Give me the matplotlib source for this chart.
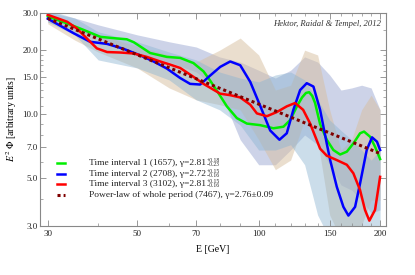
import numpy as np
import matplotlib
matplotlib.use("Agg")
import matplotlib.pyplot as plt
from matplotlib.ticker import FixedLocator, NullFormatter

plt.rcParams['font.family'] = ['Liberation Serif', 'DejaVu Serif']
plt.rcParams['mathtext.fontset'] = 'stix'

# ---- curves (E in GeV, E^2 Phi in arbitrary units)
green_E = [30, 33.5, 36.8, 40.5, 44.5, 47.1, 49.0, 50.9, 53.8, 59.2, 63.9, 68.9, 73.0,
           75.8, 78.8, 83.4, 88.3, 93.5, 100.8, 108.8, 115.2, 119.7, 124.4, 128.1, 131,
           133.4, 135.8, 138, 142, 147.5, 153.2, 159.2, 165.4, 171.7, 178.4, 182.5,
           188.9, 194.3, 200]
green_V = [28.8, 26.7, 24.9, 23.1, 22.7, 22.5, 21.8, 20.8, 19.4, 18.6, 18.4, 17.4, 15.9,
           14.4, 12.9, 10.9, 9.6, 9.05, 8.9, 8.6, 8.75, 9.4, 10.9, 12.0, 12.6,
           12.7, 12.2, 11.3, 9.0, 7.6, 6.8, 6.48, 6.68, 7.3, 8.15, 8.3,
           7.85, 7.05, 6.17]

blue_E = [30, 34.8, 38.2, 42.1, 46.2, 50.9, 54.9, 59.2, 63.9, 67.6, 71.6, 75.8, 80.3,
          85.0, 90.0, 95.3, 100.8, 106.8, 112.6, 117.4, 121.9, 126.7, 131.6, 136.7, 142,
          147.5, 150.4, 156.2, 162.2, 166.9, 173.4, 178.4, 185.3, 191, 196.5, 200]
blue_V = [28.1, 24.0, 21.9, 21.4, 20.3, 18.9, 17.7, 16.4, 14.8, 13.9, 13.8, 15.2, 16.7,
          17.7, 17.0, 14.2, 11.0, 8.4, 7.6, 8.15, 10.5, 13.0, 14.0, 13.5, 10.5,
          7.3, 6.1, 4.57, 3.68, 3.35, 3.68, 4.74, 6.8, 7.8, 7.44, 6.8]

red_E = [30, 33.5, 35.4, 37.5, 39.7, 42.1, 45.4, 49.0, 52.8, 57.0, 60.4, 63.9, 68.9,
         73.0, 80.3, 85.0, 90.0, 95.3, 99.0, 104.8, 110.9, 117.4, 123.1, 128.9, 134.1,
         142, 147.5, 156.2, 165.4, 171.7, 178.4, 183.5, 188.1, 194.3, 200]
red_V = [29.3, 27.2, 25.3, 22.7, 20.4, 19.6, 19.5, 19.3, 18.6, 17.7, 17.1, 16.5, 15.0,
         13.9, 12.5, 12.3, 12.0, 11.1, 10.1, 9.8, 10.25, 10.9, 11.3, 10.5, 9.07,
         6.9, 6.4, 6.1, 5.8, 5.29, 4.41, 3.56, 3.17, 3.56, 5.09]

# power law of the whole period: end points of the straight log-log line
pl_E = [30, 200]
pl_V = [28.2, 6.55]

# ---- uncertainty bands
band_E = [30, 35, 40, 50, 60, 70, 80, 90, 100, 110, 120, 130, 140, 150, 160, 170, 180, 190, 200]
green_up = [30.2, 28.3, 26.3, 23.6, 21.9, 20.7, 18.6, 17.6, 16.1, 14.8, 16.1, 18.6, 17.6,
            15.3, 13.0, 13.3, 13.7, 13.3, 10.5]
green_lo = [27.1, 25.0, 22.8, 19.0, 17.6, 15.8, 13.0, 7.6, 5.8, 5.8, 6.8, 8.0, 7.2,
            5.8, 4.66, 4.41, 3.96, 3.44, 3.56]
blue_up = [29.6, 26.3, 23.6, 20.9, 19.0, 17.6, 20.0, 22.8, 19.0, 13.0, 13.7, 20.0, 19.0,
           10.5, 6.8, 7.6, 10.5, 12.3, 10.5]
blue_lo = [26.6, 22.3, 19.6, 16.5, 13.3, 11.7, 11.1, 10.5, 7.6, 5.5, 6.1, 9.4, 7.6,
           3.37, 2.6, 2.6, 3.02, 3.96, 3.96]
red_up = [30.9, 28.3, 24.4, 21.9, 19.6, 18.0, 15.8, 14.8, 14.2, 15.3, 15.8, 14.5, 11.7,
          9.4, 8.4, 7.6, 6.8, 6.1, 6.8]
red_lo = [27.1, 23.6, 18.0, 16.5, 14.5, 11.7, 10.5, 8.9, 6.8, 6.8, 7.2, 5.8, 3.37,
          2.6, 2.6, 2.6, 2.6, 2.6, 2.6]

labels = ["Time interval 1 (1657), γ=2.81",
          "Time interval 2 (2708), γ=2.72",
          "Time interval 3 (3102), γ=2.81",
          "Power-law of whole period (7467), γ=2.76±0.09"]
label_err = ["+0.18\n\u22120.23", "+0.15\n\u22120.16", "+0.15\n\u22120.16", None]

x_major = [30, 50, 70, 100, 150, 200]
x_minor = [40, 60, 80, 90, 110, 120, 130, 140, 160, 170, 180, 190]
y_major = [3, 5, 7, 10, 15, 20, 30]
y_minor = [4, 6, 8, 9, 11, 12, 13, 14, 16, 17, 18, 19, 25]

fig = plt.figure(figsize=(4.15, 2.75), dpi=100)
ax = fig.add_axes([0.0964, 0.179, 0.834, 0.775])

ax.fill_between(band_E, green_lo, green_up, color='#919fce', alpha=0.45, lw=0)
ax.fill_between(band_E, blue_lo, blue_up, color='#d7bf9f', alpha=0.5, lw=0)
ax.fill_between(band_E, red_lo, red_up, color='#8cb4d2', alpha=0.45, lw=0)

styles = [dict(color='#00ee00', lw=1.8),
          dict(color='#0000ff', lw=1.8),
          dict(color='#ff0000', lw=1.8),
          dict(color='#7f0000', lw=2.2, linestyle=(0, (1, 1)))]

ax.plot(green_E, green_V, **styles[0])
ax.plot(blue_E, blue_V, **styles[1])
ax.plot(red_E, red_V, **styles[2])
ax.plot(pl_E, pl_V, **styles[3])

ax.set_xscale('log')
ax.set_yscale('log')
ax.set_xlim(28.7, 207)
ax.set_ylim(3, 30)

ax.xaxis.set_major_locator(FixedLocator(x_major))
ax.xaxis.set_minor_locator(FixedLocator(x_minor))
ax.set_xticklabels([str(v) for v in x_major])
ax.xaxis.set_minor_formatter(NullFormatter())
ax.yaxis.set_major_locator(FixedLocator(y_major))
ax.yaxis.set_minor_locator(FixedLocator(y_minor))
ax.set_yticklabels(["%.1f" % v for v in y_major])
ax.yaxis.set_minor_formatter(NullFormatter())

ax.tick_params(which='both', direction='in', top=True, right=True, colors='#888888',
               labelcolor='#222222', labelsize=6.5)
ax.tick_params(which='major', length=4, width=0.6)
ax.tick_params(which='minor', length=2, width=0.5)
ax.tick_params(axis='x', pad=3)
ax.tick_params(axis='y', pad=1.5)
for s in ax.spines.values():
    s.set_color('#888888')
    s.set_linewidth(0.8)

ax.set_xlabel("E [GeV]", fontsize=7, labelpad=5)
ax.set_ylabel(r"$E^2\ \Phi$ [arbitrary units]", fontsize=7, labelpad=2)

ax.text(0.985, 0.965, "Hektor, Raidal & Tempel, 2012", transform=ax.transAxes,
        ha='right', va='top', fontsize=6.2, style='italic', color='#333333')

# legend drawn by hand so the rows keep the even spacing of the original
row_y = [0.296, 0.243, 0.196, 0.143]
for lab, err, st, yy in zip(labels, label_err, styles, row_y):
    ax.plot([0.048, 0.072], [yy, yy], transform=ax.transAxes, **st)
    t = ax.text(0.1416, yy, lab, transform=ax.transAxes, ha='left', va='center',
                fontsize=6.8, color='#222222')
    if err:
        ax.annotate(err, xy=(1, 0.55), xycoords=t, xytext=(0.6, 0),
                    textcoords='offset points', ha='left', va='center',
                    fontsize=4.1, linespacing=0.75, color='#222222')

fig.savefig("out.png", dpi=100)
